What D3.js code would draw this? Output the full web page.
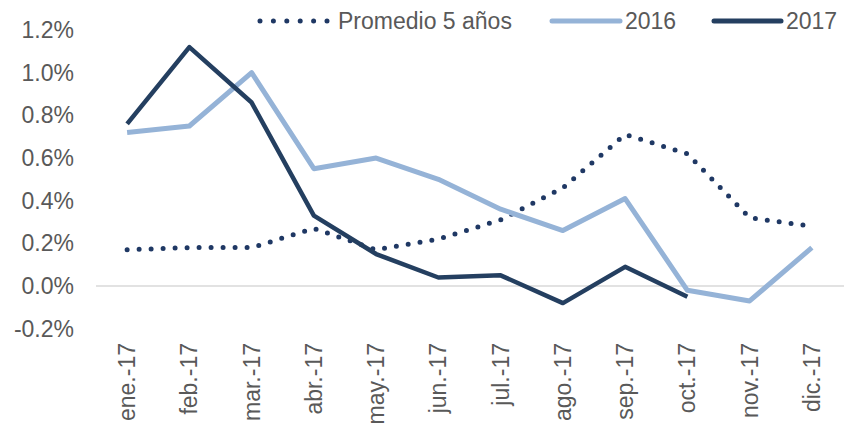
<!DOCTYPE html>
<html>
<head>
<meta charset="utf-8">
<script src="https://cdn.jsdelivr.net/npm/d3@7"></script>
<style>
  body { margin: 0; background: #fff; }
  text { font-family: "Liberation Sans", Arial, sans-serif; fill: #595959; }
</style>
</head>
<body>
<div id="chart"></div>
<script>
// datos (variación mensual, %)
var meses = ["ene.-17", "feb.-17", "mar.-17", "abr.-17", "may.-17", "jun.-17",
    "jul.-17", "ago.-17", "sep.-17", "oct.-17", "nov.-17", "dic.-17"];
var promedio = [0.17, 0.18, 0.18, 0.27, 0.17, 0.22, 0.31, 0.46, 0.71, 0.62, 0.32, 0.28];
var serie2016 = [0.72, 0.75, 1.00, 0.55, 0.60, 0.50, 0.36, 0.26, 0.41, -0.02, -0.07, 0.18];
var serie2017 = [0.76, 1.12, 0.86, 0.33, 0.15, 0.04, 0.05, -0.08, 0.09, -0.05];
var yTicks = [-0.2, 0, 0.2, 0.4, 0.6, 0.8, 1.0, 1.2];

function plot() {
    var width = 844;
    var height = 428;

    var svg = d3.select("#chart")
        .append("svg")
        .attr("width", width)
        .attr("height", height);

    var x = d3.scalePoint()
        .domain(meses)
        .range([96, 843])
        .padding(0.5);

    var y = d3.scaleLinear()
        .domain([-0.2, 1.2])
        .range([328.7, 30]);

    // eje y (solo etiquetas)
    svg.append("g")
        .selectAll("text")
        .data(yTicks)
        .enter()
        .append("text")
        .attr("x", 74)
        .attr("y", function (d) { return y(d); })
        .attr("dy", "0.35em")
        .attr("text-anchor", "end")
        .style("font-size", "23px")
        .text(function (d) { return d.toFixed(1) + "%"; });

    // línea del cero
    svg.append("line")
        .attr("x1", 96)
        .attr("x2", 844)
        .attr("y1", y(0))
        .attr("y2", y(0))
        .style("stroke", "#d9d9d9")
        .style("stroke-width", 1.5);

    // etiquetas eje x
    svg.append("g")
        .selectAll("text")
        .data(meses)
        .enter()
        .append("text")
        .attr("transform", function (d) { return "translate(" + x(d) + ",343) rotate(-90)"; })
        .attr("dy", "0.35em")
        .attr("text-anchor", "end")
        .style("font-size", "23px")
        .text(function (d) { return d; });

    var line = d3.line()
        .x(function (d, i) { return x(meses[i]); })
        .y(function (d) { return y(d); });

    svg.append("path")
        .datum(promedio)
        .attr("d", line)
        .style("fill", "none")
        .style("stroke", "#1f3864")
        .style("stroke-width", 5)
        .style("stroke-linecap", "round")
        .style("stroke-dasharray", "0 12");

    svg.append("path")
        .datum(serie2016)
        .attr("d", line)
        .style("fill", "none")
        .style("stroke", "#95b3d7")
        .style("stroke-width", 5)
        .style("stroke-linejoin", "round");

    svg.append("path")
        .datum(serie2017)
        .attr("d", line)
        .style("fill", "none")
        .style("stroke", "#243f60")
        .style("stroke-width", 4.5)
        .style("stroke-linejoin", "round");

    // leyenda
    var legend = [
        {name: "Promedio 5 años", x1: 260, x2: 327, color: "#1f3864", dash: "0 13.4", w: 5},
        {name: "2016", x1: 552, x2: 620, color: "#95b3d7", dash: null, w: 5},
        {name: "2017", x1: 714, x2: 781, color: "#243f60", dash: null, w: 5}
    ];
    var lg = svg.append("g").selectAll("g").data(legend).enter().append("g");
    lg.append("line")
        .attr("x1", function (d) { return d.x1; })
        .attr("x2", function (d) { return d.x2; })
        .attr("y1", 21)
        .attr("y2", 21)
        .style("stroke", function (d) { return d.color; })
        .style("stroke-width", function (d) { return d.w; })
        .style("stroke-linecap", "round")
        .style("stroke-dasharray", function (d) { return d.dash; });
    lg.append("text")
        .attr("x", function (d) { return d.dash ? d.x2 + 11 : d.x2 + 5; })
        .attr("y", 21)
        .attr("dy", "0.35em")
        .style("font-size", "23px")
        .text(function (d) { return d.name; });
}

plot();
</script>
</body>
</html>
